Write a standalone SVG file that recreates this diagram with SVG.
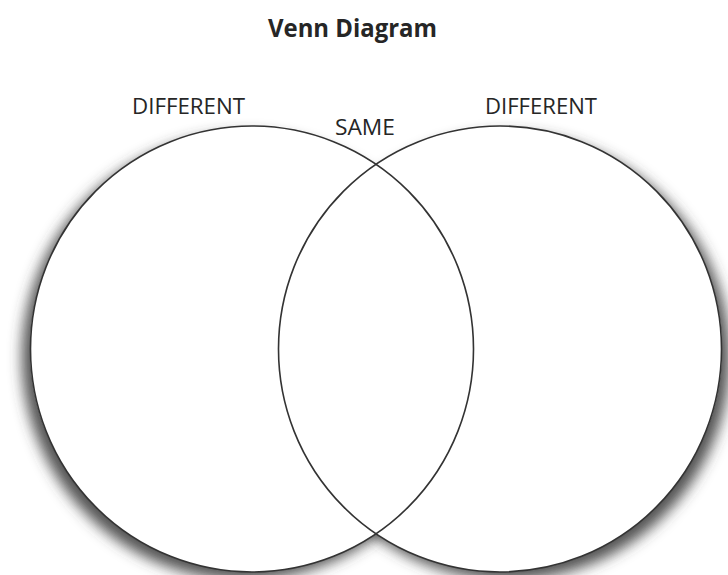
<svg xmlns="http://www.w3.org/2000/svg" width="728" height="575" viewBox="0 0 728 575">
  <defs>
    <filter id="blur" x="-20%" y="-20%" width="140%" height="140%">
      <feGaussianBlur stdDeviation="7"/>
    </filter>
  </defs>
  <style>
    .label { font-family: "Open Sans", "Liberation Sans", sans-serif; fill: #262626; }
    .title { font-weight: 700; font-size: 25px; }
    .set { font-size: 21px; }
    .shadow { fill: #404040; fill-opacity: 0.9; filter: url(#blur); }
    .fill { fill: #ffffff; stroke: none; }
    .ring { fill: none; stroke: #333333; stroke-width: 1.6; }
  </style>
  <rect width="728" height="575" fill="#ffffff"/>

  <g id="shadows">
    <ellipse class="shadow" cx="244" cy="357" rx="222" ry="223"/>
    <ellipse class="shadow" cx="508" cy="357" rx="222" ry="223"/>
  </g>
  <g id="fills">
    <ellipse class="fill" cx="252" cy="349" rx="222" ry="223"/>
    <ellipse class="fill" cx="500" cy="349" rx="222" ry="223"/>
  </g>

  <g id="left-set">
    <ellipse class="ring" cx="252" cy="349" rx="221.5" ry="223"/>
    <text class="label set" x="132" y="114" textLength="113" lengthAdjust="spacingAndGlyphs">DIFFERENT</text>
  </g>
  <g id="right-set">
    <ellipse class="ring" cx="500" cy="349" rx="221.5" ry="223"/>
    <text class="label set" x="485" y="114" textLength="112" lengthAdjust="spacingAndGlyphs">DIFFERENT</text>
  </g>
  <g id="same-label">
    <text class="label set" x="335" y="135" textLength="60" lengthAdjust="spacingAndGlyphs">SAME</text>
  </g>
  <g id="title">
    <text class="label title" x="268" y="37" textLength="169" lengthAdjust="spacingAndGlyphs">Venn Diagram</text>
  </g>
</svg>
